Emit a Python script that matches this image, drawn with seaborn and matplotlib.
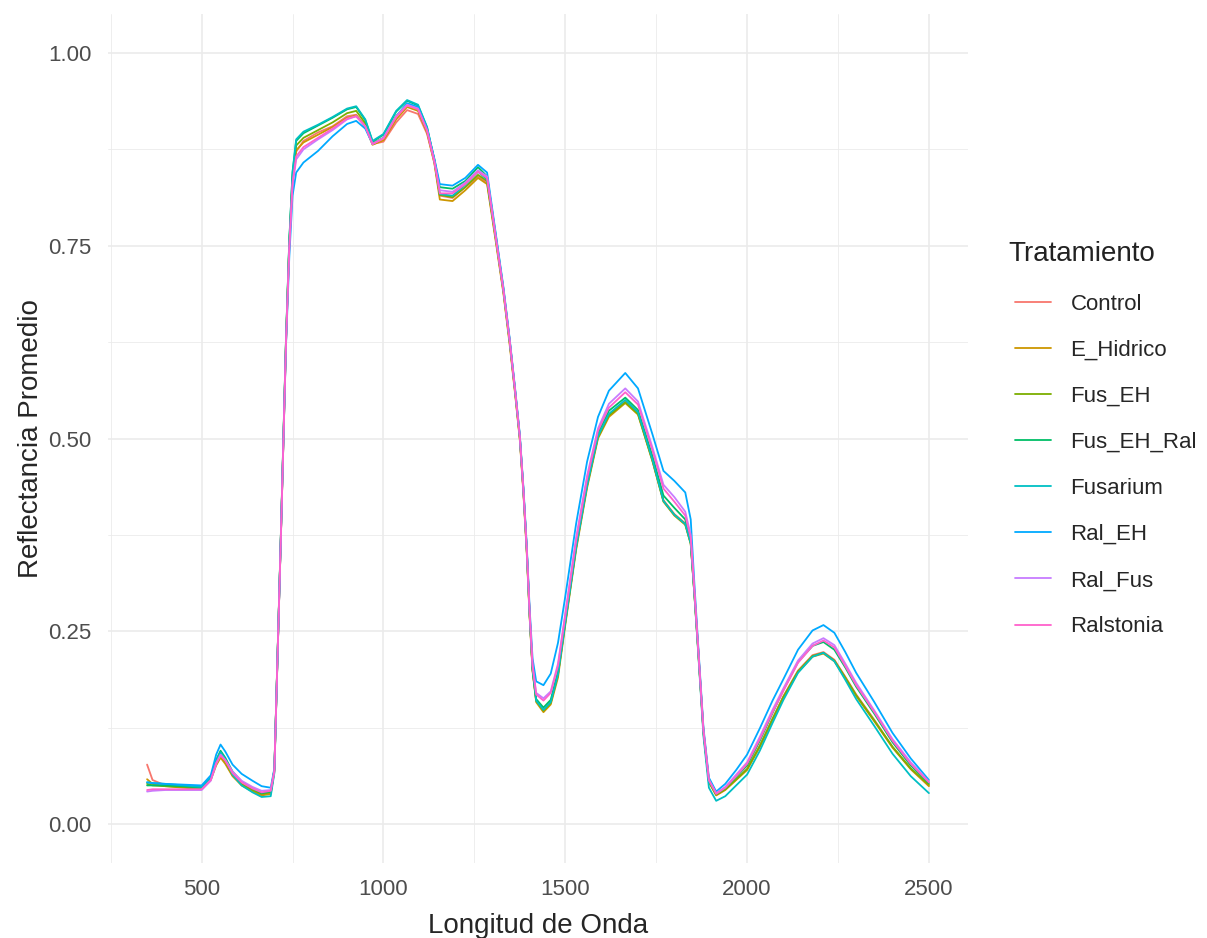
import pandas as pd
import seaborn as sns
import matplotlib.pyplot as plt
from matplotlib.ticker import MultipleLocator, FormatStrFormatter

wl = [350, 365, 400, 450, 500, 525, 540, 552, 565, 585, 610, 640, 665, 690,
      700, 710, 718, 725, 732, 741, 750, 760, 780, 820, 860, 900, 925, 950, 970,
      1000, 1035, 1065, 1095, 1120, 1140, 1155, 1190, 1225, 1260, 1285,
      1310, 1330, 1347, 1362, 1375, 1385, 1394, 1402, 1410, 1420, 1440, 1460, 1480,
      1500, 1530, 1560, 1590, 1620, 1665, 1700, 1740, 1770, 1800, 1830, 1845, 1855, 1865, 1880, 1895,
      1915, 1940, 1970, 2000, 2035, 2070, 2100, 2140, 2180, 2210, 2240, 2270, 2300, 2350, 2400, 2450, 2500]

control = [0.077, 0.057, 0.050, 0.048, 0.046, 0.058, 0.078, 0.088, 0.080, 0.063, 0.051, 0.043, 0.038, 0.040,
           0.070, 0.240, 0.375, 0.500, 0.625, 0.750, 0.835, 0.872, 0.886, 0.897, 0.905, 0.918, 0.920, 0.906, 0.882,
           0.885, 0.910, 0.926, 0.921, 0.895, 0.858, 0.815, 0.812, 0.826, 0.840, 0.832,
           0.755, 0.690, 0.625, 0.560, 0.500, 0.430, 0.355, 0.270, 0.200, 0.160, 0.148, 0.158, 0.195,
           0.262, 0.360, 0.440, 0.503, 0.530, 0.548, 0.533, 0.472, 0.420, 0.402, 0.390, 0.365, 0.300, 0.230, 0.120, 0.055,
           0.038, 0.045, 0.058, 0.072, 0.102, 0.137, 0.166, 0.199, 0.219, 0.223, 0.213, 0.191, 0.168, 0.135, 0.100, 0.072, 0.050]

e_hidrico = [0.058, 0.052, 0.049, 0.047, 0.045, 0.057, 0.076, 0.086, 0.078, 0.062, 0.050, 0.042, 0.037, 0.039,
             0.068, 0.238, 0.373, 0.498, 0.624, 0.750, 0.836, 0.874, 0.884, 0.894, 0.904, 0.916, 0.919, 0.905, 0.881,
             0.887, 0.914, 0.930, 0.925, 0.897, 0.857, 0.810, 0.808, 0.822, 0.838, 0.830,
             0.752, 0.688, 0.622, 0.558, 0.498, 0.428, 0.352, 0.268, 0.198, 0.158, 0.145, 0.155, 0.190,
             0.258, 0.356, 0.436, 0.500, 0.528, 0.546, 0.531, 0.470, 0.418, 0.400, 0.388, 0.363, 0.298, 0.228, 0.118, 0.054,
             0.037, 0.044, 0.057, 0.070, 0.100, 0.135, 0.164, 0.197, 0.217, 0.221, 0.211, 0.189, 0.166, 0.133, 0.099, 0.071, 0.049]

fus_eh = [0.052, 0.050, 0.049, 0.048, 0.046, 0.058, 0.079, 0.090, 0.081, 0.064, 0.052, 0.044, 0.039, 0.041,
          0.070, 0.240, 0.376, 0.502, 0.628, 0.753, 0.840, 0.880, 0.890, 0.900, 0.910, 0.922, 0.925, 0.909, 0.883,
          0.890, 0.918, 0.933, 0.927, 0.899, 0.860, 0.816, 0.813, 0.826, 0.842, 0.834,
          0.756, 0.691, 0.626, 0.561, 0.501, 0.431, 0.356, 0.271, 0.200, 0.160, 0.147, 0.157, 0.194,
          0.261, 0.359, 0.439, 0.502, 0.530, 0.547, 0.532, 0.471, 0.419, 0.401, 0.389, 0.364, 0.299, 0.229, 0.119, 0.055,
          0.038, 0.045, 0.058, 0.071, 0.101, 0.136, 0.165, 0.198, 0.218, 0.222, 0.212, 0.190, 0.167, 0.134, 0.100, 0.072, 0.051]

fus_eh_ral = [0.050, 0.050, 0.050, 0.049, 0.047, 0.060, 0.083, 0.095, 0.086, 0.068, 0.055, 0.046, 0.040, 0.042,
              0.071, 0.242, 0.378, 0.505, 0.630, 0.757, 0.845, 0.886, 0.896, 0.906, 0.916, 0.927, 0.930, 0.913, 0.885,
              0.894, 0.924, 0.938, 0.932, 0.903, 0.862, 0.826, 0.824, 0.834, 0.852, 0.840,
              0.760, 0.694, 0.628, 0.563, 0.503, 0.433, 0.358, 0.273, 0.202, 0.162, 0.151, 0.161, 0.198,
              0.265, 0.363, 0.443, 0.507, 0.536, 0.553, 0.537, 0.477, 0.426, 0.410, 0.395, 0.367, 0.301, 0.231, 0.121, 0.056,
              0.039, 0.047, 0.061, 0.076, 0.108, 0.144, 0.174, 0.210, 0.231, 0.236, 0.226, 0.203, 0.178, 0.143, 0.106, 0.076, 0.053]

fusarium = [0.054, 0.053, 0.052, 0.050, 0.048, 0.060, 0.082, 0.093, 0.084, 0.064, 0.050, 0.041, 0.035, 0.036,
            0.066, 0.238, 0.376, 0.503, 0.629, 0.756, 0.846, 0.888, 0.898, 0.907, 0.917, 0.928, 0.931, 0.914, 0.886,
            0.895, 0.925, 0.939, 0.933, 0.904, 0.861, 0.817, 0.815, 0.829, 0.846, 0.836,
            0.757, 0.692, 0.627, 0.562, 0.502, 0.432, 0.357, 0.272, 0.201, 0.160, 0.148, 0.158, 0.194,
            0.261, 0.359, 0.439, 0.503, 0.532, 0.550, 0.534, 0.472, 0.419, 0.401, 0.389, 0.364, 0.298, 0.226, 0.114, 0.047,
            0.030, 0.036, 0.050, 0.064, 0.095, 0.131, 0.161, 0.196, 0.217, 0.222, 0.211, 0.187, 0.162, 0.127, 0.091, 0.062, 0.040]

ral_eh = [0.054, 0.053, 0.052, 0.051, 0.050, 0.063, 0.090, 0.103, 0.094, 0.077, 0.065, 0.056, 0.049, 0.047,
          0.072, 0.240, 0.374, 0.498, 0.620, 0.735, 0.815, 0.845, 0.858, 0.873, 0.892, 0.908, 0.912, 0.902, 0.882,
          0.890, 0.918, 0.935, 0.930, 0.901, 0.863, 0.830, 0.828, 0.838, 0.855, 0.845,
          0.762, 0.696, 0.630, 0.565, 0.505, 0.436, 0.362, 0.280, 0.215, 0.185, 0.180, 0.195, 0.235,
          0.295, 0.390, 0.470, 0.528, 0.562, 0.585, 0.565, 0.505, 0.458, 0.445, 0.430, 0.395, 0.312, 0.236, 0.125, 0.060,
          0.042, 0.052, 0.070, 0.090, 0.124, 0.160, 0.188, 0.226, 0.251, 0.258, 0.248, 0.223, 0.196, 0.158, 0.118, 0.085, 0.057]

ral_fus = [0.042, 0.043, 0.044, 0.044, 0.044, 0.056, 0.078, 0.090, 0.083, 0.068, 0.056, 0.048, 0.043, 0.044,
           0.068, 0.238, 0.374, 0.499, 0.624, 0.745, 0.828, 0.862, 0.875, 0.888, 0.900, 0.914, 0.918, 0.905, 0.882,
           0.890, 0.918, 0.933, 0.928, 0.900, 0.860, 0.822, 0.820, 0.832, 0.848, 0.840,
           0.758, 0.693, 0.628, 0.563, 0.503, 0.433, 0.358, 0.275, 0.207, 0.170, 0.163, 0.172, 0.208,
           0.273, 0.372, 0.452, 0.513, 0.545, 0.565, 0.548, 0.488, 0.440, 0.424, 0.405, 0.375, 0.305, 0.232, 0.122, 0.057,
           0.040, 0.048, 0.064, 0.080, 0.113, 0.148, 0.176, 0.212, 0.234, 0.241, 0.232, 0.208, 0.183, 0.147, 0.110, 0.080, 0.055]

ralstonia = [0.044, 0.045, 0.045, 0.045, 0.045, 0.057, 0.079, 0.089, 0.082, 0.066, 0.054, 0.046, 0.041, 0.043,
             0.069, 0.239, 0.374, 0.499, 0.625, 0.748, 0.832, 0.866, 0.878, 0.890, 0.902, 0.915, 0.918, 0.905, 0.882,
             0.889, 0.917, 0.932, 0.927, 0.899, 0.859, 0.818, 0.818, 0.830, 0.846, 0.838,
             0.757, 0.692, 0.627, 0.562, 0.502, 0.432, 0.357, 0.274, 0.205, 0.168, 0.160, 0.170, 0.205,
             0.270, 0.368, 0.448, 0.510, 0.540, 0.560, 0.544, 0.484, 0.435, 0.418, 0.400, 0.371, 0.303, 0.231, 0.121, 0.057,
             0.039, 0.047, 0.062, 0.078, 0.110, 0.145, 0.173, 0.209, 0.231, 0.238, 0.229, 0.205, 0.180, 0.145, 0.108, 0.078, 0.054]

tratamientos = ["Control", "E_Hidrico", "Fus_EH", "Fus_EH_Ral", "Fusarium", "Ral_EH", "Ral_Fus", "Ralstonia"]
series = [control, e_hidrico, fus_eh, fus_eh_ral, fusarium, ral_eh, ral_fus, ralstonia]
# default ggplot hue palette for 8 levels
colores = ["#F8766D", "#CD9600", "#7CAE00", "#00BE67", "#00BFC4", "#00A9FF", "#C77CFF", "#FF61CC"]

# long format table
rows = []
for name, vals in zip(tratamientos, series):
    for w, v in zip(wl, vals):
        rows.append([w, v, name])
df = pd.DataFrame(rows, columns=["Longitud", "Reflectancia", "Tratamiento"])

sns.set_theme(style="white")
plt.rcParams['font.family'] = ['Liberation Sans', 'DejaVu Sans']

fig, ax = plt.subplots(figsize=(12.07, 9.38), dpi=100)
fig.subplots_adjust(left=108/1207, right=968/1207, top=1-14.5/938, bottom=1-862.5/938)

sns.lineplot(data=df, x="Longitud", y="Reflectancia", hue="Tratamiento",
             hue_order=tratamientos, palette=colores, estimator=None,
             linewidth=1.3, ax=ax)

ax.set_xlim(242.5, 2607.5)
ax.set_ylim(-0.05, 1.05)
ax.xaxis.set_major_locator(MultipleLocator(500))
ax.xaxis.set_minor_locator(MultipleLocator(250))
ax.yaxis.set_major_locator(MultipleLocator(0.25))
ax.yaxis.set_minor_locator(MultipleLocator(0.125))
ax.yaxis.set_major_formatter(FormatStrFormatter('%.2f'))

# theme_minimal look
ax.grid(which='major', color='#EBEBEB', linewidth=1.2)
ax.grid(which='minor', color='#EBEBEB', linewidth=0.6)
ax.set_axisbelow(True)
for s in ax.spines.values():
    s.set_visible(False)
ax.tick_params(which='both', length=0, labelsize=16, labelcolor='#4D4D4D')
ax.tick_params(axis='y', pad=12)
ax.tick_params(axis='x', pad=12)
ax.set_xlabel("Longitud de Onda", fontsize=20, labelpad=9)
ax.set_ylabel("Reflectancia Promedio", fontsize=20, labelpad=3)

# legend entries, title placed on its own like ggplot
handles, labels = ax.get_legend_handles_labels()
leg = ax.legend(handles, labels, loc='center left',
                bbox_to_anchor=(995/1207, 1-465.5/938), bbox_transform=fig.transFigure,
                frameon=False, fontsize=16,
                handlelength=1.6, handletextpad=0.9, labelspacing=1.13)
for line in leg.get_lines():
    line.set_linewidth(1.3)
fig.text(1008/1207, 1-254/938, "Tratamiento", fontsize=20, color='#222222',
         ha='left', va='center')

fig.savefig("out.png", dpi=100)
